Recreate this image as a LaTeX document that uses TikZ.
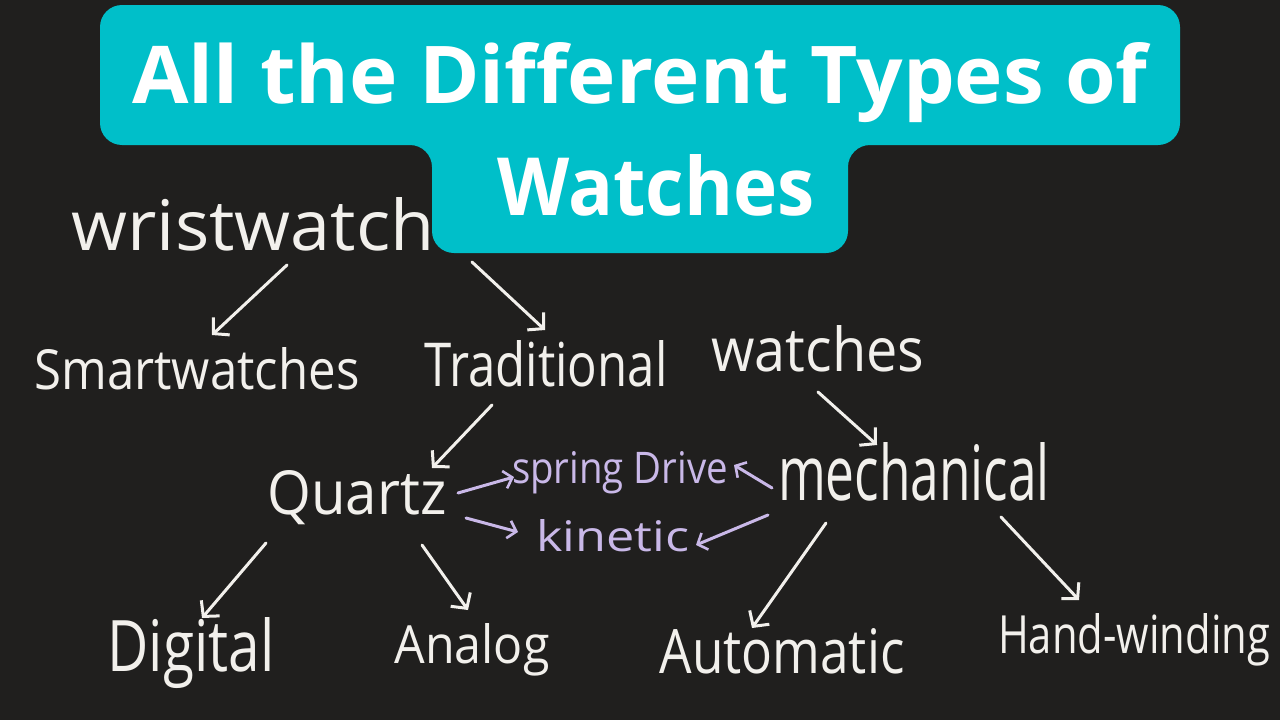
\documentclass[tikz,border=0pt]{standalone}
\usepackage{fontspec}
\setmainfont{Open Sans}
\usetikzlibrary{arrows.meta,calc}
\definecolor{bgc}{HTML}{201F1E}
\definecolor{teal}{HTML}{00BFC9}
\definecolor{ink}{HTML}{F2F0EC}
\definecolor{lilac}{HTML}{C9B8E8}
\newcommand{\hw}[3]{\resizebox{#1pt}{#2pt}{#3}}
\begin{document}
\begin{tikzpicture}[x=1pt,y=-1pt,
  hand/.style={inner sep=0pt,anchor=base,text=ink,font=\fontsize{40}{48}\selectfont},
  handp/.style={hand,text=lilac},
  arr/.style={draw=ink,line width=3pt,line cap=round,line join=round,-{Straight Barb[length=11pt,width=24pt,line width=3pt]}},
  arrp/.style={arr,draw=lilac,-{Straight Barb[length=8pt,width=18pt,line width=2.6pt]}},
  title/.style={inner sep=0pt,anchor=base,text=white,font=\bfseries\fontsize{80}{90}\selectfont}]
\useasboundingbox (0,0) rectangle (1280,720);
\fill[bgc] (0,0) rectangle (1280,720);
% banner
\fill[teal,rounded corners=22pt] (100,5) -- (1180,5) -- (1180,145) -- (848,145) -- (848,253) -- (432,253) -- (432,145) -- (100,145) -- cycle;
\node[title] (t1) at (640,103) {\hw{1015}{61}{All the Different Types of}};
\node[title] (t2) at (656,215) {\hw{317}{61}{Watches}};
% labels
\node[hand] (wrist) at (253,250) {\hw{363}{53}{wristwatch}};
\node[hand] (smart) at (197,389) {\hw{325}{42}{Smartwatches}};
\node[hand] (trad) at (546,386) {\hw{243}{46}{Traditional}};
\node[hand] (watches) at (818,371) {\hw{213}{46}{watches}};
\node[hand] (quartz) at (357,514) {\hw{179}{44}{Quartz}};
\node[handp] (spring) at (620,483) {\hw{216}{32}{spring Drive}};
\node[handp] (kinetic) at (613,551) {\hw{153}{32}{kinetic}};
\node[hand] (mech) at (914,500) {\hw{272}{58}{mechanical}};
\node[hand] (digital) at (191,671) {\hw{167}{54}{Digital}};
\node[hand] (analog) at (472,663) {\hw{155}{40}{Analog}};
\node[hand] (auto) at (782,673) {\hw{245}{45}{Automatic}};
\node[hand] (handw) at (1134,653) {\hw{272}{40}{Hand-winding}};
% connectors
\draw[arr] ($(wrist.base)+(34,15)$) -- ($(smart.base)+(15,-54)$);
\draw[arr] ($(wrist.base)+(219,12)$) -- ($(trad.base)+(-1,-56)$);
\draw[arr] ($(trad.base)+(-54,19)$) -- ($(quartz.base)+(75,-46)$);
\draw[arr] ($(watches.base)+(0,21)$) -- ($(mech.base)+(-37,-55)$);
\draw[arrp] ($(quartz.base)+(101,-21)$) -- ($(spring.base)+(-106,-6)$);
\draw[arrp] ($(quartz.base)+(109,4)$) -- ($(kinetic.base)+(-95,-19)$);
\draw[arrp] ($(mech.base)+(-142,-12)$) -- ($(spring.base)+(114,-18)$);
\draw[arrp] ($(mech.base)+(-146,15)$) -- ($(kinetic.base)+(83,-6)$);
\draw[arr] ($(quartz.base)+(-91,29)$) -- ($(digital.base)+(11,-53)$);
\draw[arr] ($(quartz.base)+(65,31)$) -- ($(analog.base)+(-4,-53)$);
\draw[arr] ($(mech.base)+(-88,23)$) -- ($(auto.base)+(-30,-45)$);
\draw[arr] ($(mech.base)+(87,17)$) -- ($(handw.base)+(-55,-53)$);
\end{tikzpicture}
\end{document}
